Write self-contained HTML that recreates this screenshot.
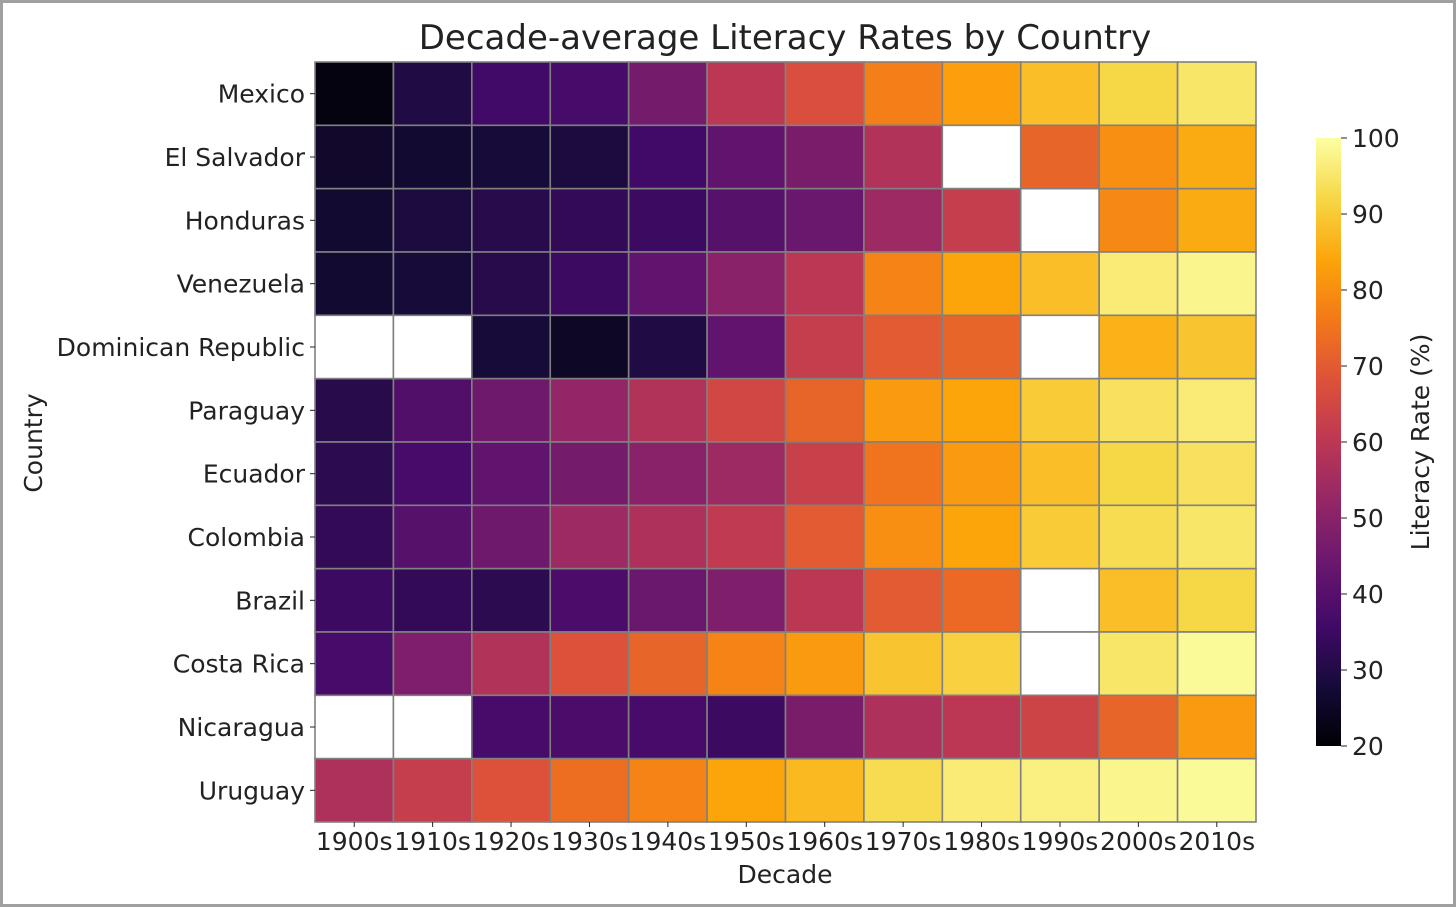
<!DOCTYPE html>
<html><head><meta charset="utf-8">
<style>
html,body{margin:0;padding:0;background:#fff;}
svg{display:block;font-family:"DejaVu Sans","Liberation Sans",sans-serif;}
</style></head>
<body>
<svg id="chart" width="1456" height="907">
<rect x="1.5" y="1.5" width="1453" height="904" fill="#fff" stroke="#a0a0a0" stroke-width="3"/>
<text x="785" y="49" font-size="34" text-anchor="middle" fill="#222">Decade-average Literacy Rates by Country</text>
<g id="cells"></g>
<g id="ylabels"></g>
<g id="xlabels"></g>
<text x="785" y="883" font-size="25" text-anchor="middle" fill="#222">Decade</text>
<text transform="translate(42,443) rotate(-90)" font-size="25" text-anchor="middle" fill="#222">Country</text>
<defs><linearGradient id="cb" x1="0" y1="1" x2="0" y2="0"></linearGradient></defs>
<rect x="1316" y="138" width="25" height="608" fill="url(#cb)"/>
<g id="cbticks"></g>
<text transform="translate(1429,442) rotate(-90)" font-size="25" text-anchor="middle" fill="#222">Literacy Rate (%)</text>
</svg>
<script>
const countries=["Mexico","El Salvador","Honduras","Venezuela","Dominican Republic","Paraguay","Ecuador","Colombia","Brazil","Costa Rica","Nicaragua","Uruguay"];
const decades=["1900s","1910s","1920s","1930s","1940s","1950s","1960s","1970s","1980s","1990s","2000s","2010s"];
const rowMexico=[22,30,36,37,46,60,67,77,83,88,92,95];
const rowElSalvador=[26,27,28,29,36,42,47,58,null,72,80,85];
const rowHonduras=[27,29,31,33,35,40,44,54,62,null,79,85];
const rowVenezuela=[27,28,31,35,42,50,60,78,84,88,96,98];
const rowDominican=[null,null,28,25,30,42,62,70,72,null,86,89];
const rowParaguay=[31,39,45,52,58,65,72,82,84,90,94,96];
const rowEcuador=[32,37,42,46,50,54,63,75,82,88,92,94];
const rowColombia=[33,40,45,54,57,61,70,80,84,90,93,95];
const rowBrazil=[35,33,32,38,44,48,60,70,73,null,88,92];
const rowCostaRica=[37,48,58,68,72,78,82,89,91,null,95,99];
const rowNicaragua=[null,null,37,38,37,35,47,57,60,64,72,82];
const rowUruguay=[57,62,68,74,78,84,87,93,96,97,98,99];
const values=[rowMexico,rowElSalvador,rowHonduras,rowVenezuela,rowDominican,rowParaguay,rowEcuador,rowColombia,rowBrazil,rowCostaRica,rowNicaragua,rowUruguay];
const cbTicks=[20,30,40,50,60,70,80,90,100];
const vmin=20,vmax=100;

const NS="http://www.w3.org/2000/svg";
const X0=315,X1=1256,Y0=62,Y1=822;
const cw=(X1-X0)/decades.length, ch=(Y1-Y0)/countries.length;
const xs=i=>X0+i*cw, ys=j=>Y0+j*ch;
const cbY=v=>746-(v-vmin)/(vmax-vmin)*608;
const stops=["#000004","#160b39","#420a68","#6a176e","#932667","#bc3754","#dd513a","#f37819","#fca50a","#f6d746","#fcffa4"];
function hex(h){return [1,3,5].map(k=>parseInt(h.substr(k,2),16));}
function cmap(v){let t=Math.max(0,Math.min(1,(v-vmin)/(vmax-vmin)))*10;let i=Math.min(9,Math.floor(t)),f=t-i;
 const a=hex(stops[i]),b=hex(stops[i+1]);return "rgb("+a.map((c,k)=>Math.round(c+(b[k]-c)*f)).join(",")+")";}
function el(tag,attrs,parent){const e=document.createElementNS(NS,tag);for(const k in attrs)e.setAttribute(k,attrs[k]);parent.appendChild(e);return e;}

const g=document.getElementById("cells");
values.forEach((row,j)=>row.forEach((v,i)=>{
 const r=el("rect",{x:xs(i),y:ys(j),width:cw,height:ch,fill:v==null?"#fff":cmap(v),stroke:"#808080","stroke-width":1.6},g);
 
 
}));
const yl=document.getElementById("ylabels");
countries.forEach((c,j)=>{
 const yc=ys(j)+ch/2;
 el("line",{x1:310,x2:315,y1:yc,y2:yc,stroke:"#222","stroke-width":1},yl);
 const t=el("text",{x:305,y:yc+9,"font-size":25,"text-anchor":"end",fill:"#222"},yl);
 t.textContent=c;
 
 
});
const xl=document.getElementById("xlabels");
decades.forEach((d,i)=>{
 const xc=xs(i)+cw/2;
 el("line",{x1:xc,x2:xc,y1:822,y2:827,stroke:"#222","stroke-width":1},xl);
 const t=el("text",{x:xc,y:850,"font-size":25,"text-anchor":"middle",fill:"#222"},xl);
 t.textContent=d;
 
 
});
const gr=document.getElementById("cb");
stops.forEach((s,k)=>el("stop",{offset:(k*10)+"%","stop-color":s},gr));
const cbt=document.getElementById("cbticks");
cbTicks.forEach(v=>{
 const y=cbY(v);
 el("line",{x1:1341,x2:1347,y1:y,y2:y,stroke:"#222","stroke-width":1},cbt);
 const t=el("text",{x:1352,y:y+9,"font-size":25,fill:"#222"},cbt);
 t.textContent=v;
 
 
});
</script>
</body></html>
